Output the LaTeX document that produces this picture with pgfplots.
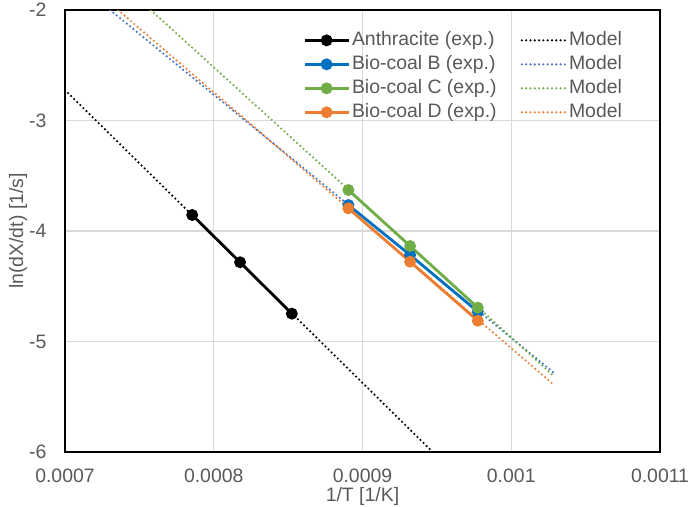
\documentclass[border=0pt]{standalone}
\usepackage{fontspec}
\setmainfont{Liberation Sans}
\usepackage{pgfplots}
\pgfplotsset{compat=1.18}
\definecolor{txt}{HTML}{595959}
\definecolor{gridc}{HTML}{D9D9D9}
\definecolor{expB}{HTML}{0070C0}
\definecolor{modB}{HTML}{4472C4}
\definecolor{cG}{HTML}{70AD47}
\definecolor{cO}{HTML}{ED7D31}
\begin{document}
\fontsize{19.5}{23}\selectfont
\begin{tikzpicture}
\begin{axis}[
  scale only axis, width=595bp, height=442bp,
  xmin=0.0007, xmax=0.0011, ymin=-6, ymax=-2,
  scaled x ticks=false,
  xtick={0.0007,0.0008,0.0009,0.001,0.0011},
  xticklabels={0.0007,0.0008,0.0009,0.001,0.0011},
  ytick={-6,-5,-4,-3,-2},
  yticklabels={-6,-5,-4,-3,-2},
  major tick length=0pt,
  grid=major, grid style={gridc, line width=1.3bp},
  axis line style={black, line width=1.3bp},
  tick label style={font=\fontsize{19.5}{23}\selectfont, text=txt},
  xticklabel style={yshift=-10bp},
  yticklabel style={xshift=-12bp},
  label style={font=\fontsize{19.5}{23}\selectfont, text=txt},
  xlabel={1/T [1/K]}, ylabel={ln(dX/dt) [1/s]},
  xlabel style={at={(axis description cs:0.5,0)}, anchor=center, yshift=-44bp},
  ylabel style={at={(axis description cs:0,0.5)}, anchor=center, yshift=47bp},
  legend style={draw=none, fill=none, at={(0.395,0.96)}, anchor=north west,
    font=\fontsize{19.5}{23}\selectfont, text=txt, legend columns=2,
    /tikz/every even column/.append style={column sep=22bp},
    row sep=3bp},
  legend cell align=left,
  legend image code/.code={\draw[mark repeat=2,mark phase=2,#1] plot coordinates {(0bp,0bp) (22bp,0bp) (44bp,0bp)};},
  clip=true,
]
% model lines
\addplot[forget plot, black, line width=2.4bp, line cap=round, dash pattern=on 0bp off 4.3bp] coordinates {(0.0007,-2.724) (0.0009472,-6)};
\addplot[forget plot, modB, line width=2.4bp, line cap=round, dash pattern=on 0bp off 4.3bp] coordinates {(0.0007303,-2) (0.0010283,-5.279)};
\addplot[forget plot, cG, line width=2.4bp, line cap=round, dash pattern=on 0bp off 4.3bp] coordinates {(0.0007576,-2) (0.0010283,-5.309)};
\addplot[forget plot, cO, line width=2.4bp, line cap=round, dash pattern=on 0bp off 4.3bp] coordinates {(0.0007356,-2) (0.0010283,-5.388)};
% experimental
\addplot[forget plot, black, line width=2.8bp, mark=*, mark size=4.5bp] coordinates {(0.0007855,-3.855) (0.0008177,-4.283) (0.0008525,-4.748)};
\addplot[forget plot, expB, line width=2.8bp, mark=*, mark size=4.5bp] coordinates {(0.0008905,-3.765) (0.000932,-4.217) (0.0009775,-4.730)};
\addplot[forget plot, cG, line width=2.8bp, mark=*, mark size=4.5bp] coordinates {(0.0008905,-3.629) (0.000932,-4.136) (0.0009775,-4.694)};
\addplot[forget plot, cO, line width=2.8bp, mark=*, mark size=4.5bp] coordinates {(0.0008905,-3.795) (0.000932,-4.278) (0.0009775,-4.812)};
\addlegendimage{black, line width=2.8bp, mark=*, mark size=4.5bp}
\addlegendimage{black, line width=2.4bp, line cap=round, dash pattern=on 0bp off 4.3bp}
\addlegendimage{expB, line width=2.8bp, mark=*, mark size=4.5bp}
\addlegendimage{modB, line width=2.4bp, line cap=round, dash pattern=on 0bp off 4.3bp}
\addlegendimage{cG, line width=2.8bp, mark=*, mark size=4.5bp}
\addlegendimage{cG, line width=2.4bp, line cap=round, dash pattern=on 0bp off 4.3bp}
\addlegendimage{cO, line width=2.8bp, mark=*, mark size=4.5bp}
\addlegendimage{cO, line width=2.4bp, line cap=round, dash pattern=on 0bp off 4.3bp}
\legend{Anthracite (exp.), Model, Bio-coal B (exp.), Model, Bio-coal C (exp.), Model, Bio-coal D (exp.), Model}
\end{axis}
\pgfresetboundingbox
\path (-65bp,-55bp) rectangle (624bp,452bp);
\end{tikzpicture}
\end{document}
